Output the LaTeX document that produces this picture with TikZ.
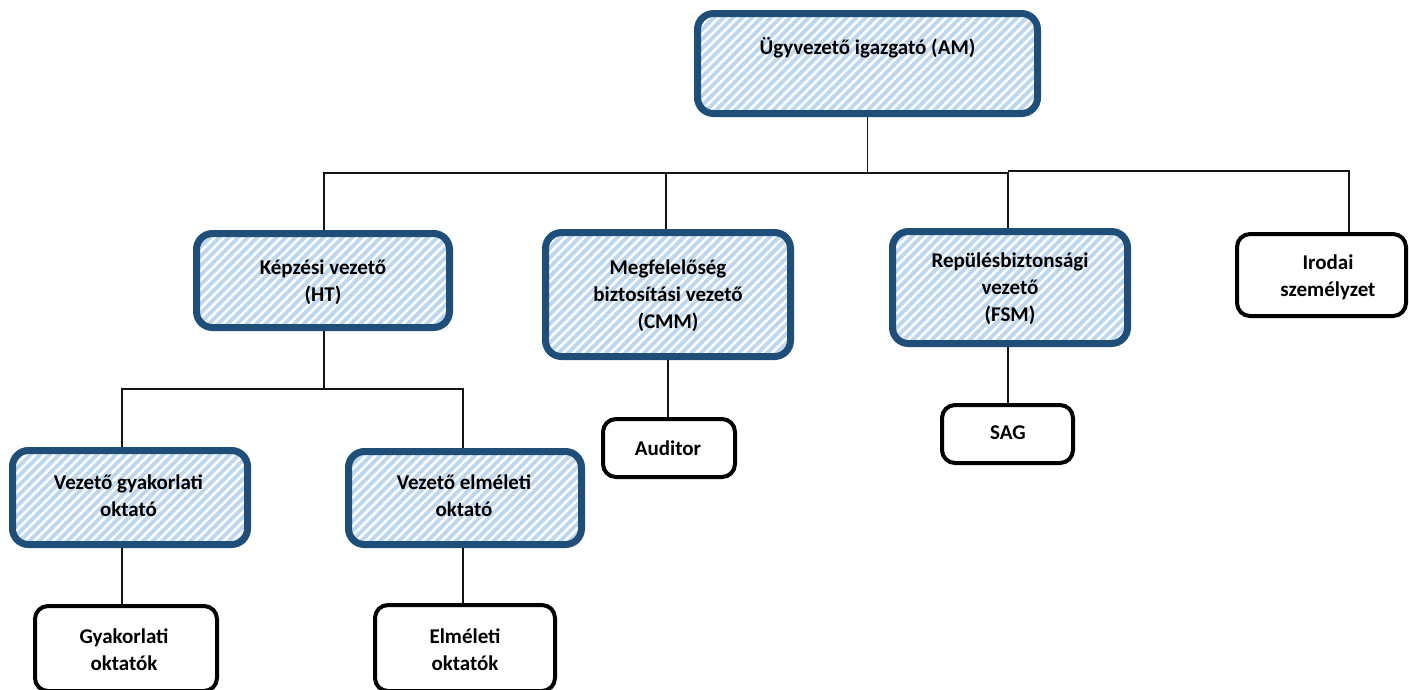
\documentclass[tikz,border=0pt]{standalone}
\usepackage{fontspec}
\setmainfont{Carlito}
\usetikzlibrary{patterns.meta}
\definecolor{darkblue}{RGB}{31,78,121}
\definecolor{stripeblue}{RGB}{189,215,238}
\definecolor{conn}{RGB}{20,20,20}
\tikzset{
  bluebox/.style={draw=darkblue, line width=7pt, rounded corners=16pt, inner sep=0pt,
    preaction={fill=stripeblue},
    preaction={pattern={Lines[angle=45,distance=6.7pt,line width=2.6pt]}, pattern color=white}},
  blackbox/.style={draw=black, line width=4pt, rounded corners=13pt, inner sep=0pt, fill=white},
  lbl/.style={align=center, inner sep=0pt, font=\fontsize{21}{27}\selectfont\bfseries},
  link/.style={draw=conn, line width=1.3pt}
}
\begin{document}
\begin{tikzpicture}[x=1pt,y=-1pt]
\useasboundingbox[fill=white] (0,0) rectangle (1409,689);
% boxes
\node[bluebox, minimum width=340pt, minimum height=100pt] (am) at (867.5,63.5) {};
\node[bluebox, minimum width=253pt, minimum height=94pt] (ht) at (323,280.5) {};
\node[bluebox, minimum width=245pt, minimum height=124pt] (cmm) at (668,294.5) {};
\node[bluebox, minimum width=235pt, minimum height=112pt] (fsm) at (1010,287.5) {};
\node[bluebox, minimum width=235pt, minimum height=94pt] (vgy) at (130,497.5) {};
\node[bluebox, minimum width=233pt, minimum height=93pt] (ve) at (465,498) {};
\node[blackbox, minimum width=169pt, minimum height=82pt] (iro) at (1321.5,275) {};
\node[blackbox, minimum width=132pt, minimum height=58pt] (aud) at (669,448) {};
\node[blackbox, minimum width=131pt, minimum height=58pt] (sag) at (1007.5,434) {};
\node[blackbox, minimum width=182pt, minimum height=85pt] (gyo) at (126,648.5) {};
\node[blackbox, minimum width=180pt, minimum height=86pt] (eo) at (465,648) {};
% labels
\node[lbl] (am-t) at (867.5,48) {Ügyvezető igazgató (AM)};
\node[lbl] (ht-t) at (323,282) {Képzési vezető\\(HT)};
\node[lbl] (cmm-t) at (668,296) {Megfelelőség\\biztosítási vezető\\(CMM)};
\node[lbl] (fsm-t) at (1010,289) {Repülésbiztonsági\\vezető\\(FSM)};
\node[lbl] (iro-t) at (1328,277) {Irodai\\személyzet};
\node[lbl] (vgy-t) at (128.5,496) {Vezető gyakorlati\\oktató};
\node[lbl] (ve-t) at (464,496) {Vezető elméleti\\oktató};
\node[lbl] (aud-t) at (668,448) {Auditor};
\node[lbl] (sag-t) at (1008,433) {SAG};
\node[lbl] (gyo-t) at (124,650) {Gyakorlati\\oktatók};
\node[lbl] (eo-t) at (465,650) {Elméleti\\oktatók};
% bus levels and drop positions
\coordinate (bus1) at (0,173);
\coordinate (bus2) at (0,171);
\coordinate (bus3) at (0,389);
\coordinate (xht) at (324,0);
\coordinate (xcmm) at (666,0);
\coordinate (xfsm) at (1008,0);
\coordinate (xiro) at (1349,0);
\coordinate (xvgy) at (122,0);
\coordinate (xve) at (463,0);
\coordinate (xaud) at (668,0);
% connectors
\draw[link] (am.south) -- (am.south |- bus1) -- (xht |- bus1) -- (xht |- ht.north);
\draw[link] (am.south |- bus1) -- (xfsm |- bus1) -- (xfsm |- fsm.north);
\draw[link] (xcmm |- bus1) -- (xcmm |- cmm.north);
\draw[link] (xfsm |- bus2) -- (xiro |- bus2) -- (xiro |- iro.north);
\draw[link] (xht |- ht.south) -- (xht |- bus3) -- (xvgy |- bus3) -- (xvgy |- vgy.north);
\draw[link] (xht |- bus3) -- (xve |- bus3) -- (xve |- ve.north);
\draw[link] (xaud |- cmm.south) -- (xaud |- aud.north);
\draw[link] (xfsm |- fsm.south) -- (xfsm |- sag.north);
\draw[link] (xvgy |- vgy.south) -- (xvgy |- gyo.north);
\draw[link] (xve |- ve.south) -- (xve |- eo.north);
\end{tikzpicture}
\end{document}
